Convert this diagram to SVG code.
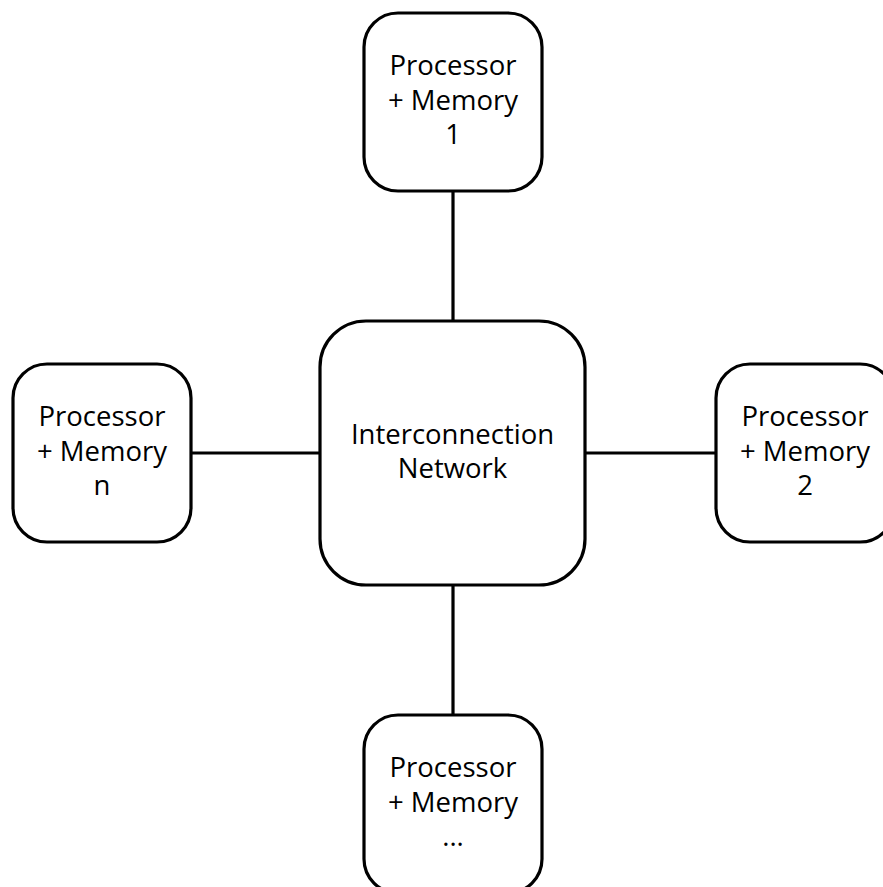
<svg xmlns="http://www.w3.org/2000/svg" width="883" height="887" viewBox="0 0 883 887">
  <style>
    .box { fill: #ffffff; stroke: #000000; stroke-width: 3.2; }
    .wire { stroke: #000000; stroke-width: 3.2; fill: none; }
    .label { font-family: "Open Sans", "Noto Sans", sans-serif; font-size: 27.5px; fill: #000000; text-anchor: middle; }
  </style>
  <rect width="883" height="887" fill="#ffffff"/>
  <g id="connectors">
    <line class="wire" x1="453" y1="191" x2="453" y2="321"/>
    <line class="wire" x1="453" y1="585" x2="453" y2="715"/>
    <line class="wire" x1="191" y1="453" x2="320" y2="453"/>
    <line class="wire" x1="585" y1="453" x2="716" y2="453"/>
  </g>
  <g id="node-network">
    <rect class="box" x="320" y="321" width="265" height="264" rx="46" ry="46"/>
    <text class="label" x="452.5" y="444">Interconnection</text>
    <text class="label" x="452.5" y="478">Network</text>
  </g>
  <g id="node-pm1">
    <rect class="box" x="364" y="13" width="178" height="178" rx="34" ry="34"/>
    <text class="label" x="453" y="75">Processor</text>
    <text class="label" x="453" y="110">+ Memory</text>
    <text class="label" x="453" y="144">1</text>
  </g>
  <g id="node-pm2">
    <rect class="box" x="716" y="364" width="178" height="178" rx="34" ry="34"/>
    <text class="label" x="805" y="426">Processor</text>
    <text class="label" x="805" y="461">+ Memory</text>
    <text class="label" x="805" y="495">2</text>
  </g>
  <g id="node-pmn">
    <rect class="box" x="13" y="364" width="178" height="178" rx="34" ry="34"/>
    <text class="label" x="102" y="426">Processor</text>
    <text class="label" x="102" y="461">+ Memory</text>
    <text class="label" x="102" y="495">n</text>
  </g>
  <g id="node-pm-more">
    <rect class="box" x="364" y="715" width="178" height="178" rx="34" ry="34"/>
    <text class="label" x="453" y="777">Processor</text>
    <text class="label" x="453" y="812">+ Memory</text>
    <text class="label" x="453" y="846">...</text>
  </g>
</svg>
